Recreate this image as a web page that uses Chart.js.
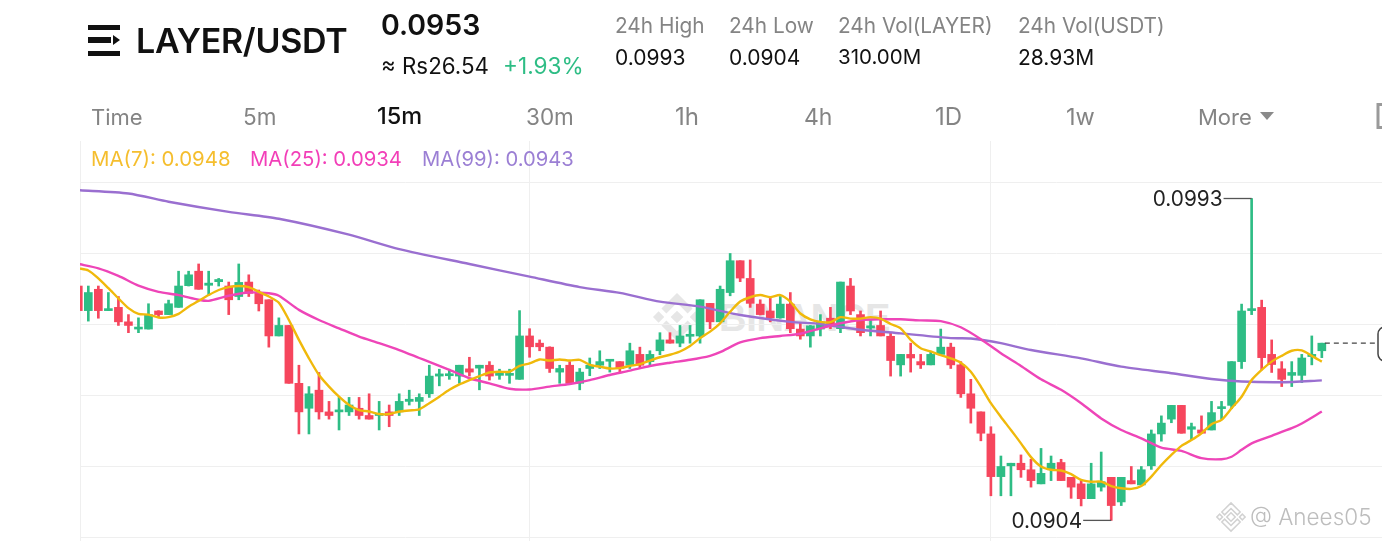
<!DOCTYPE html>
<html><head><meta charset="utf-8">
<script src="https://cdn.jsdelivr.net/npm/chart.js@4"></script>
<style>
html,body{margin:0;padding:0;background:#fff;width:1382px;height:542px;overflow:hidden;font-family:Inter,"Noto Sans",sans-serif}
.t{position:absolute;white-space:nowrap;line-height:1;transform:translateY(-50%)}
.g{color:#848484}.k{color:#111}
#wrap{position:absolute;left:0;top:0;width:1382px;height:542px}
canvas{position:absolute;left:0;top:0}
</style></head><body>
<svg width="1382" height="542" style="position:absolute;left:0;top:0">
<g fill="#111"><rect x="88" y="25" width="32" height="5"/><rect x="88" y="37" width="23" height="6"/><path d="M113 35l7 5-7 5z"/><rect x="88" y="51" width="32" height="5"/></g>
<g fill="#e6e6e6" transform="translate(677 317) rotate(45)"><rect x="-4.5" y="-4.5" width="9" height="9"/><path d="M-17-17H5v7H-10V5h-7z"/><path d="M17 17H-5v-7H10V-5h7z"/><rect x="-17" y="9" width="8" height="8"/><rect x="9" y="-17" width="8" height="8"/></g>
<g fill="none" stroke="#d2d2d2" stroke-width="1.5" transform="translate(1231 517) rotate(45)"><rect x="-3" y="-3" width="6" height="6"/><path d="M-10-10H3v4H-6V3h-4z"/><path d="M10 10H-3v-4H6V-3h4z"/><rect x="-10" y="6" width="4" height="4"/><rect x="6" y="-10" width="4" height="4"/></g>
<path d="M1260 112h14l-7 8z" fill="#8a8a8a"/>
<path d="M1384 104.500h-6v23h6" fill="none" stroke="#9a9a9a" stroke-width="3"/>
<rect x="1378" y="327" width="30" height="34" rx="7" fill="#fff" stroke="#444" stroke-width="1.5"/>
</svg>
<div class="t" style="left:719px;top:318px;font:700 38px 'Liberation Sans';color:#e6e6e6;letter-spacing:-.3px">BINANCE</div>
<div id="wrap"><canvas id="c" width="1382" height="542"></canvas></div>

<div class="t k" style="left:136px;top:41px;font-size:34px;font-weight:600;letter-spacing:-.3px">LAYER/USDT</div>
<div class="t k" style="left:381px;top:25px;font-size:28.500px;font-weight:600">0.0953</div>
<div class="t k" style="left:381px;top:66px;font-size:22.300px">≈ Rs26.54</div>
<div class="t" style="left:503px;top:66px;font-size:22.600px;color:#2EBD85">+1.93%</div>
<div class="t g" style="left:615px;top:26px;font-size:20.800px">24h High</div>
<div class="t k" style="left:615px;top:57px;font-size:21px">0.0993</div>
<div class="t g" style="left:729px;top:26px;font-size:20.800px">24h Low</div>
<div class="t k" style="left:729px;top:57px;font-size:21px">0.0904</div>
<div class="t g" style="left:838px;top:26px;font-size:20.800px">24h Vol(LAYER)</div>
<div class="t k" style="left:838px;top:57px;font-size:20.500px">310.00M</div>
<div class="t g" style="left:1018px;top:26px;font-size:20.800px">24h Vol(USDT)</div>
<div class="t k" style="left:1018px;top:57px;font-size:21px">28.93M</div>
<div class="t g" style="left:91px;top:117px;font-size:22px">Time</div>
<div class="t g" style="left:243px;top:117px;font-size:22.500px">5m</div>
<div class="t k" style="left:377px;top:116px;font-size:23.500px;font-weight:500">15m</div>
<div class="t g" style="left:526px;top:117px;font-size:22.500px">30m</div>
<div class="t g" style="left:675px;top:117px;font-size:24px">1h</div>
<div class="t g" style="left:804px;top:117px;font-size:23px">4h</div>
<div class="t g" style="left:935px;top:117px;font-size:24px">1D</div>
<div class="t g" style="left:1066px;top:117px;font-size:23.500px">1w</div>
<div class="t g" style="left:1198px;top:117px;font-size:22px">More</div>
<div class="t" style="left:91px;top:159px;font-size:20.400px;color:#F5BE2E">MA(7): 0.0948</div>
<div class="t" style="left:250px;top:159px;font-size:20.300px;color:#F23FB8">MA(25): 0.0934</div>
<div class="t" style="left:422px;top:159px;font-size:20.200px;color:#9B7FD4">MA(99): 0.0943</div>
<div class="t" style="left:1250px;top:517px;font-size:22.500px;font-weight:300;color:#bdbdbd">@ Anees05</div>

<script>
const opens=[.09688,.09620,.09679,.09620,.09629,.09589,.09569,.09569,.09619,.09609,
.09629,.09689,.09729,.09690,.09700,.09688,.09659,.09699,.09670,.09650,
.09550,.09579,.09419,.09350,.09400,.09340,.09340,.09340,.09350,.09330,
.09330,.09340,.09340,.09369,.09369,.09390,.09439,.09440,.09439,.09459,
.09461,.09469,.09441,.09441,.09430,.09550,.09530,.09519,.09450,.09469,
.09419,.09460,.09469,.09480,.09479,.09469,.09499,.09479,.09509,.09539,
.09530,.09549,.09550,.09640,.09589,.09670,.09758,.09709,.09638,.09619,
.09600,.09638,.09569,.09550,.09569,.09599,.09570,.09688,.09609,.09572,
.09579,.09549,.09470,.09499,.09479,.09470,.09499,.09519,.09470,.09390,
.09340,.09279,.09161,.09191,.09198,.09180,.09141,.09180,.09200,.09159,
.09141,.09100,.09132,.09159,.09091,.09150,.09138,.09191,.09279,.09320,
.09358,.09292,.09290,.09290,.09349,.09358,.09479,.09620,.09629,.09499,
.09459,.09441,.09441,.09493,.09509];
const highs=[.09688,.09688,.09688,.09670,.09659,.09609,.09600,.09639,.09620,.09649,
.09729,.09729,.09749,.09729,.09709,.09699,.09749,.09719,.09677,.09650,
.09600,.09579,.09469,.09410,.09449,.09369,.09380,.09380,.09380,.09390,
.09369,.09359,.09390,.09400,.09390,.09469,.09458,.09458,.09469,.09491,
.09469,.09479,.09458,.09458,.09620,.09570,.09539,.09520,.09469,.09479,
.09460,.09489,.09509,.09485,.09479,.09530,.09519,.09509,.09559,.09559,
.09579,.09579,.09650,.09640,.09688,.09778,.09758,.09760,.09650,.09659,
.09659,.09670,.09585,.09579,.09609,.09629,.09699,.09709,.09619,.09594,
.09619,.09559,.09499,.09530,.09499,.09507,.09569,.09530,.09479,.09430,
.09340,.09299,.09218,.09198,.09221,.09209,.09239,.09218,.09209,.09159,
.09150,.09198,.09229,.09159,.09159,.09189,.09189,.09290,.09329,.09358,
.09358,.09309,.09329,.09369,.09369,.09479,.09638,.09930,.09649,.09539,
.09479,.09479,.09499,.09550,.09530];
const lows=[.09620,.09591,.09599,.09620,.09579,.09559,.09559,.09569,.09602,.09609,
.09629,.09688,.09679,.09664,.09688,.09609,.09650,.09659,.09619,.09519,
.09550,.09419,.09279,.09279,.09320,.09320,.09290,.09330,.09320,.09320,
.09290,.09299,.09330,.09359,.09330,.09380,.09412,.09430,.09419,.09439,
.09401,.09428,.09430,.09419,.09430,.09491,.09509,.09449,.09419,.09419,
.09401,.09440,.09460,.09450,.09450,.09460,.09460,.09470,.09498,.09530,
.09520,.09530,.09530,.09570,.09589,.09661,.09700,.09629,.09608,.09589,
.09599,.09559,.09541,.09519,.09550,.09570,.09559,.09609,.09550,.09550,
.09550,.09439,.09439,.09450,.09460,.09470,.09499,.09460,.09380,.09309,
.09260,.09108,.09108,.09108,.09159,.09132,.09141,.09150,.09150,.09101,
.09080,.09100,.09121,.09040,.09081,.09141,.09138,.09181,.09259,.09310,
.09281,.09263,.09281,.09290,.09320,.09349,.09460,.09609,.09456,.09449,
.09410,.09410,.09421,.09470,.09490];
const closes=[.09620,.09670,.09620,.09624,.09589,.09579,.09574,.09609,.09609,.09639,
.09688,.09719,.09679,.09696,.09706,.09650,.09698,.09668,.09639,.09550,
.09579,.09419,.09340,.09390,.09340,.09330,.09345,.09359,.09330,.09320,
.09336,.09330,.09369,.09375,.09380,.09439,.09445,.09445,.09469,.09450,
.09469,.09439,.09445,.09445,.09550,.09520,.09520,.09460,.09460,.09419,
.09450,.09469,.09479,.09485,.09460,.09509,.09469,.09499,.09539,.09530,
.09550,.09554,.09650,.09589,.09679,.09758,.09710,.09640,.09609,.09600,
.09638,.09570,.09550,.09578,.09589,.09579,.09699,.09619,.09559,.09578,
.09550,.09482,.09499,.09489,.09470,.09499,.09519,.09470,.09390,.09350,
.09281,.09161,.09189,.09198,.09180,.09150,.09170,.09198,.09150,.09132,
.09100,.09141,.09147,.09081,.09159,.09141,.09180,.09279,.09309,.09358,
.09281,.09299,.09281,.09338,.09354,.09479,.09619,.09624,.09490,.09471,
.09430,.09449,.09489,.09499,.09530];
const ma7=[.09737,.09731,.09709,.09682,.09654,.09627,.09611,.09609,.09601,.09602,
.09611,.09631,.09647,.09663,.09677,.09685,.09688,.09685,.09672,.09659,
.09642,.09594,.09539,.09488,.09442,.09410,.09382,.09359,.09345,.09341,
.09334,.09334,.09341,.09344,.09347,.09364,.09382,.09401,.09416,.09428,
.09439,.09449,.09451,.09451,.09467,.09474,.09485,.09482,.09485,.09482,
.09484,.09470,.09465,.09460,.09461,.09467,.09472,.09482,.09491,.09498,
.09507,.09522,.09544,.09562,.09585,.09617,.09645,.09657,.09663,.09657,
.09663,.09645,.09612,.09596,.09589,.09588,.09602,.09598,.09598,.09602,
.09598,.09583,.09571,.09539,.09516,.09507,.09497,.09488,.09476,.09451,
.09410,.09364,.09326,.09290,.09253,.09215,.09189,.09180,.09178,.09168,
.09152,.09147,.09147,.09135,.09129,.09127,.09135,.09161,.09193,.09221,
.09246,.09262,.09281,.09306,.09318,.09350,.09382,.09428,.09456,.09479,
.09495,.09509,.09510,.09495,.09479];
const ma25At=[0,2,4,6,8,10,12,13,15,17,19,20,22,24,26,28,30,32,34,35,37,39,41,43,45,47,49,51,53,55,57,59,61,63,64,66,68,70,72,74,76,78,80,82,84,86,88,90,92,94,96,98,100,102,104,106,108,110,112,114,115,116,117,119,121,122,124];
const ma25=[.09749,.09737,.09716,.09689,.09672,.09663,.09650,.09647,.09661,.09670,.09668,.09661,.09622,.09594,.09571,.09548,.09530,.09511,.09489,.09478,.09456,.09433,.09419,.09404,.09402,.09410,.09417,.09428,.09442,.09454,.09467,.09476,.09484,.09495,.09505,.09532,.09544,.09550,.09556,.09571,.09585,.09594,.09596,.09596,.09593,.09591,.09574,.09541,.09502,.09467,.09430,.09401,.09364,.09322,.09290,.09267,.09241,.09232,.09212,.09209,.09216,.09235,.09253,.09274,.09295,.09308,.09341];
const ma99At=[0,5,9,15,20,27,32,39,45,50,54,58,62,66,71,74,78,82,87,89,92,95,100,104,109,113,116,120,124];
const ma99=[.09953,.09944,.09921,.09893,.09874,.09830,.09790,.09749,.09714,.09685,.09669,.09645,.09631,.09608,.09589,.09583,.09567,.09557,.09544,.09543,.09530,.09511,.09488,.09465,.09447,.09431,.09424,.09422,.09427];
const priceNow=.0953, dayHigh=.0993, dayLow=.0904;
const gridPrices=[.09974,.09778,.09582,.09386,.09190,.08994];
const gridTimes=[.17,45,91];

const UP='#2EBD85',DOWN='#F6465D';
const col=i=>closes[i]>=opens[i]?UP:DOWN;
const lineDs=(data,color,w=2)=>({type:'line',data,borderColor:color,borderWidth:w,pointRadius:0,tension:.25,order:1,fill:false});
new Chart(document.getElementById('c'),{
 type:'bar',
 data:{datasets:[
  {data:lows.map((l,i)=>({x:i,y:[l,highs[i]]})),backgroundColor:ctx=>col(ctx.dataIndex),barThickness:2,grouped:false,order:4},
  {data:opens.map((o,i)=>({x:i,y:[o,closes[i]]})),backgroundColor:ctx=>col(ctx.dataIndex),barThickness:8,grouped:false,order:3,minBarLength:2},
  lineDs(ma7.map((y,x)=>({x,y})),'#F0B90B',2.4),
  lineDs(ma25At.map((x,i)=>({x,y:ma25[i]})),'#EE45B8',2.4),
  lineDs(ma99At.map((x,i)=>({x,y:ma99[i]})),'#9A6FD0',2.4),
  {type:'line',data:[{x:124.3,y:priceNow},{x:129.5,y:priceNow}],borderColor:'#444',borderWidth:1.3,borderDash:[5,4],pointRadius:0,order:2},
  {type:'line',data:[{x:114.2,y:dayHigh},{x:117,y:dayHigh}],borderColor:'#555',borderWidth:1.3,pointRadius:0,order:2},
  {type:'line',data:[{x:100.2,y:dayLow},{x:103,y:dayLow}],borderColor:'#555',borderWidth:1.3,pointRadius:0,order:2}
 ]},
 options:{
  responsive:false,animation:false,
  layout:{padding:{left:80,top:141,right:0,bottom:1}},
  plugins:{legend:{display:false},tooltip:{enabled:false}},
  scales:{
   x:{type:'linear',min:.17,max:130,offset:false,
    grid:{color:'#efefef',offset:false,drawTicks:false,lineWidth:1},border:{display:false},
    ticks:{display:false},afterFit:s=>{s.height=0},
    afterBuildTicks:s=>{s.ticks=gridTimes.map(value=>({value}))}},
   y:{type:'linear',min:.08983,max:.10089,
    grid:{color:'#efefef',drawTicks:false,lineWidth:1},border:{display:false},
    ticks:{display:false},afterFit:s=>{s.width=0},
    afterBuildTicks:s=>{s.ticks=gridPrices.map(value=>({value}))}}
  }
 },
 plugins:[{id:'extremes',afterDatasetsDraw(ch){
  const {ctx,scales:{x,y}}=ch;
  ctx.save();ctx.font='20.800px Inter';ctx.fillStyle='#222';ctx.textAlign='right';ctx.textBaseline='middle';
  ctx.fillText('0.0993',x.getPixelForValue(114.2)-1,y.getPixelForValue(dayHigh)+1);
  ctx.fillText('0.0904',x.getPixelForValue(100.2)-1,y.getPixelForValue(dayLow)+1);
  ctx.restore();
 }}]
});
</script>
</body></html>
